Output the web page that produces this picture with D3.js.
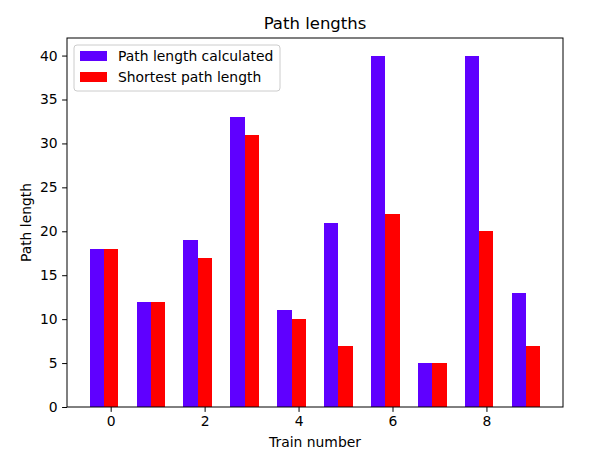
<!DOCTYPE html>
<html>
<head>
<meta charset="utf-8">
<script src="https://cdn.jsdelivr.net/npm/d3@7"></script>
<style>
  body { margin: 0; background: #fff; }
  text { font-family: "DejaVu Sans", sans-serif; fill: #000; }
</style>
</head>
<body>
<div id="chart"></div>
<script>
// chart data
var trains = [0, 1, 2, 3, 4, 5, 6, 7, 8, 9];
var calculated = [18, 12, 19, 33, 11, 21, 40, 5, 40, 13];
var shortest = [18, 12, 17, 31, 10, 7, 22, 5, 20, 7];
var xTicks = [0, 2, 4, 6, 8];
var yTicks = [0, 5, 10, 15, 20, 25, 30, 35, 40];
var seriesNames = ["Path length calculated", "Shortest path length"];
var colors = ["#5f00ff", "#ff0000"];

var svgWidth = 595;
var svgHeight = 453;
var margin = { top: 38, right: 32, bottom: 46, left: 67 };
var width = svgWidth - margin.left - margin.right;
var height = svgHeight - margin.top - margin.bottom;
var barWidth = 0.3;
var fontSize = "13.9px";

var svg = d3.select("#chart")
  .append("svg")
  .attr("width", svgWidth)
  .attr("height", svgHeight);

var chartGroup = svg.append("g")
  .attr("transform", `translate(${margin.left}, ${margin.top})`);

// matplotlib style auto margins: 5% of the data span on each side
var xMin = d3.min(trains) - 0.45;
var xMax = d3.max(trains) + 0.15;
var pad = (xMax - xMin) * 0.05;
var xScale = d3.scaleLinear()
  .domain([xMin - pad, xMax + pad])
  .range([0, width]);

var yScale = d3.scaleLinear()
  .domain([0, 42])
  .range([height, 0]);

// bars
var series = [calculated, shortest];
series.forEach(function (vals, s) {
  chartGroup.append("g").selectAll("rect")
    .data(vals)
    .enter()
    .append("rect")
    .attr("x", (d, i) => xScale(trains[i] - 0.45 + s * barWidth))
    .attr("width", (d, i) => xScale(trains[i] - 0.45 + (s + 1) * barWidth) - xScale(trains[i] - 0.45 + s * barWidth))
    .attr("y", d => yScale(d))
    .attr("height", d => yScale(0) - yScale(d))
    .attr("shape-rendering", "crispEdges")
    .attr("fill", colors[s]);
});

// axes
var bottomAxis = d3.axisBottom(xScale).tickValues(xTicks).tickSize(4.9).tickPadding(4.5);
var leftAxis = d3.axisLeft(yScale).tickValues(yTicks).tickSize(4.9).tickPadding(4.5);

var xg = chartGroup.append("g")
  .attr("transform", `translate(0, ${height})`)
  .call(bottomAxis);
var yg = chartGroup.append("g")
  .call(leftAxis);

[xg, yg].forEach(function (g) {
  g.select(".domain").remove();
  g.selectAll("text").style("font-size", fontSize).style("font-family", "DejaVu Sans, sans-serif").attr("fill", "#000");
  g.selectAll("line").attr("stroke", "#000").attr("stroke-width", 1);
});

// frame
chartGroup.append("rect")
  .attr("x", 0)
  .attr("y", 0)
  .attr("width", width)
  .attr("height", height)
  .attr("fill", "none")
  .attr("stroke", "#000")
  .attr("stroke-width", 1);

// title and axis labels
svg.append("text")
  .attr("x", margin.left + width / 2)
  .attr("y", 29)
  .attr("text-anchor", "middle")
  .style("font-size", "16.5px")
  .text("Path lengths");

svg.append("text")
  .attr("x", margin.left + width / 2)
  .attr("y", 447)
  .attr("text-anchor", "middle")
  .style("font-size", fontSize)
  .text("Train number");

svg.append("text")
  .attr("transform", `translate(31, ${margin.top + height / 2}) rotate(-90)`)
  .attr("text-anchor", "middle")
  .style("font-size", fontSize)
  .text("Path length");

// legend
var legend = svg.append("g")
  .attr("transform", "translate(74, 45)");

legend.append("rect")
  .attr("width", 206)
  .attr("height", 46)
  .attr("rx", 3)
  .attr("fill", "#fff")
  .attr("fill-opacity", 0.8)
  .attr("stroke", "#cccccc");

seriesNames.forEach(function (name, i) {
  legend.append("rect")
    .attr("x", 6)
    .attr("y", 6 + i * 21)
    .attr("width", 27)
    .attr("height", 10)
    .attr("fill", colors[i]);
  legend.append("text")
    .attr("x", 44)
    .attr("y", 16 + i * 21)
    .style("font-size", fontSize)
    .text(name);
});
</script>
</body>
</html>
